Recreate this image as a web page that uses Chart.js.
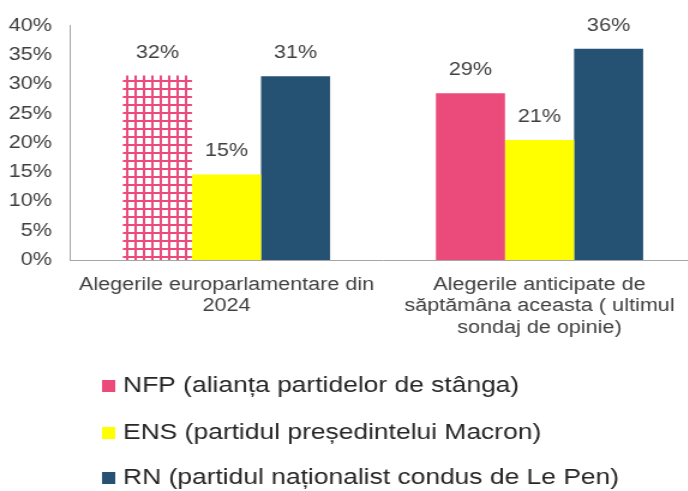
<!DOCTYPE html>
<html><head><meta charset="utf-8">
<script src="https://cdn.jsdelivr.net/npm/chart.js@4"></script>
<style>html,body{margin:0;padding:0;background:#fff;overflow:hidden;width:688px;height:491px}
#c{display:block;transform:scaleX(1.2);transform-origin:0 0}</style>
</head><body><canvas id="c" width="580" height="491"></canvas>
<script>
const categories = [["Alegerile europarlamentare din","2024"],["Alegerile anticipate de","săptămâna aceasta ( ultimul","sondaj de opinie)"]];
const seriesNames = ["NFP (alianța partidelor de stânga)","ENS (partidul președintelui Macron)","RN (partidul naționalist condus de Le Pen)"];
const nfpValues = [31.5, 28.5];
const ensValues = [14.6, 20.5];
const rnValues = [31.4, 36.1];
const yTicks = [0,5,10,15,20,25,30,35,40];

const PINK = '#EB4B7B', YELLOW = '#FFFF00', NAVY = '#255172';
const FONT = '"Liberation Sans", Arial, sans-serif';

function makePattern(){
  const p = document.createElement('canvas'); p.width = 7; p.height = 8;
  const g = p.getContext('2d');
  g.fillStyle = '#fff'; g.fillRect(0,0,7,8);
  g.fillStyle = PINK; g.fillRect(0,0,2,8); g.fillRect(0,0,7,2);
  return document.getElementById('c').getContext('2d').createPattern(p,'repeat');
}
const pattern = makePattern();

const labelPlugin = {
  id:'vals',
  afterDatasetsDraw(chart){
    const ctx = chart.ctx;
    ctx.save();
    ctx.font = '18px ' + FONT; ctx.fillStyle = '#404040';
    ctx.textAlign = 'center'; ctx.textBaseline = 'middle';
    chart.data.datasets.forEach((ds,i)=>{
      chart.getDatasetMeta(i).data.forEach((bar,j)=>{
        ctx.fillText(Math.round(ds.data[j]) + '%', bar.x, bar.y - 23);
      });
    });
    ctx.restore();
  },
  afterDraw(chart){
    const ctx = chart.ctx;
    ctx.save();
    const rows = [386, 433, 478];
    chart.data.datasets.forEach((ds,i)=>{
      ctx.fillStyle = ds.legendColor;
      ctx.fillRect(85, rows[i]-6, 11, 12);
      ctx.fillStyle = '#262626';
      ctx.font = '22px ' + FONT; ctx.textAlign = 'left'; ctx.textBaseline = 'middle';
      ctx.fillText(ds.label, 102.5, rows[i]);
    });
    ctx.restore();
  }
};

new Chart(document.getElementById('c'), {
  type:'bar',
  data:{
    labels: categories,
    datasets:[
      {label:seriesNames[0], data:nfpValues, backgroundColor:[pattern, PINK], legendColor:PINK},
      {label:seriesNames[1], data:ensValues, backgroundColor:YELLOW, legendColor:YELLOW},
      {label:seriesNames[2], data:rnValues, backgroundColor:NAVY, legendColor:NAVY}
    ]
  },
  options:{
    responsive:false, animation:false,
    layout:{padding:{top:17,left:0,right:0,bottom:0}},
    datasets:{bar:{categoryPercentage:0.662, barPercentage:1}},
    plugins:{legend:{display:false}, tooltip:{enabled:false}},
    scales:{
      x:{
        grid:{display:false, drawTicks:false},
        border:{display:true, color:'#A6A6A6', width:1},
        ticks:{font:{family:FONT,size:18}, color:'#404040', padding:14, maxRotation:0, autoSkip:false},
        afterFit(s){ s.height = 231; }
      },
      y:{
        min:0, max:40,
        afterBuildTicks(s){ s.ticks = yTicks.map(v=>({value:v})); },
        grid:{display:false, drawTicks:false},
        border:{display:true, color:'#A6A6A6', width:1},
        ticks:{font:{family:FONT,size:18}, color:'#404040', padding:15, callback:v=>v+'%'},
        afterFit(s){ s.width = 58.3; }
      }
    }
  },
  plugins:[labelPlugin]
});
</script></body></html>
